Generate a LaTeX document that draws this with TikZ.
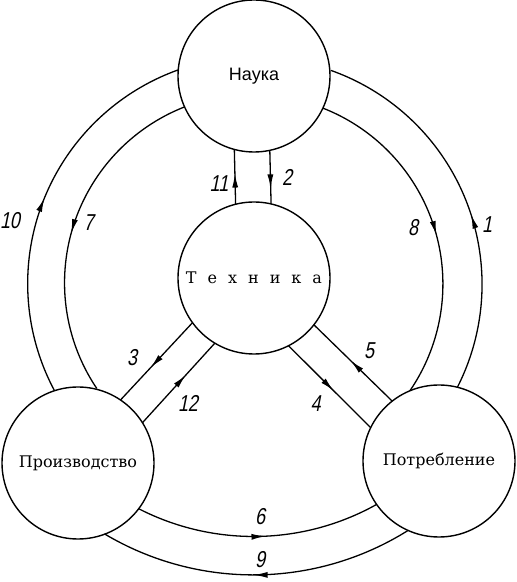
\documentclass[tikz,border=0pt]{standalone}
\usepackage{fontspec}
\setmainfont{Liberation Sans}
\newfontfamily\serfnt{DejaVu Serif}
\newfontfamily\sansfnt{Liberation Sans}
\newfontfamily\numfnt[FakeSlant=0.2,FakeStretch=0.78]{Liberation Sans}
\usetikzlibrary{arrows.meta,decorations.markings}
\tikzset{
  circ/.style={circle, draw, line width=1.4pt, minimum size=152pt, inner sep=0pt, outer sep=0pt},
  conn/.style={line width=1.3pt},
  midarrow/.style={postaction={decorate}, decoration={markings, mark=at position #1 with {\arrow{Latex[length=14pt,width=6pt]}}}},
  num/.style={font=\numfnt\fontsize{23}{23}\selectfont, inner sep=0pt},
  sertext/.style={font=\serfnt\fontsize{16}{20}\selectfont},
  sanstext/.style={font=\sansfnt\fontsize{18}{20}\selectfont}
}
\begin{document}
\begin{tikzpicture}[x=1pt,y=1pt]
\useasboundingbox (0,0) rectangle (517,582);
% main nodes
\node[circ, sanstext] (N) at (254,506) {Наука};
\node[circ, sertext] (T) at (254,304) {\spaceskip=11pt Т е х н и к а};
\node[circ, sertext] (P) at (78,119) {Производство};
\node[circ, sertext] (C) at (439,121) {Потребление};
% vertical connectors
\draw[conn, midarrow=0.56] (T.104.5) -- (N.255.5);
\draw[conn, midarrow=0.71] (N.282.9) -- (T.77.1);
% diagonal connectors
\draw[conn, midarrow=0.58] (T.216.5) -- (P.56.5);
\draw[conn, midarrow=0.60] (P.32) -- (T.239.5);
\draw[conn, midarrow=0.53] (C.128) -- (T.322);
\draw[conn, midarrow=0.55] (T.297.5) -- (C.154);
% big arcs (centre at (254,298))
\draw[conn, midarrow=0.51] (P.108.5) arc[start angle=208.15, end angle=109.5, radius=227];
\draw[conn, midarrow=0.52] (N.204.9) arc[start angle=111.4, end angle=213.96, radius=189];
\draw[conn, midarrow=0.52] (N.335.1) arc[start angle=68.6, end angle=-34.4, radius=189];
\draw[conn, midarrow=0.46] (C.76.9) arc[start angle=-26.96, end angle=70.5, radius=227];
\draw[conn, midarrow=0.53] (P.323.4) arc[start angle=242.86, end angle=299.14, radius=252];
\draw[conn, midarrow=0.51] (C.246.4) arc[start angle=302.1, end angle=239.21, radius=291];
% labels
\node[num] (l11) at (219,398) {11};
\node[num] (l2) at (287,404.5) {2};
\node[num] (l10) at (10,361) {10};
\node[num] (l7) at (88.5,359.5) {7};
\node[num] (l8) at (413,354) {8};
\node[num] (l1) at (487,357) {1};
\node[num] (l3) at (132,224.5) {3};
\node[num] (l12) at (188,178.5) {12};
\node[num] (l5) at (369,231.5) {5};
\node[num] (l4) at (315.5,178.5) {4};
\node[num] (l6) at (260,65.5) {6};
\node[num] (l9) at (260,22) {9};
\end{tikzpicture}
\end{document}
